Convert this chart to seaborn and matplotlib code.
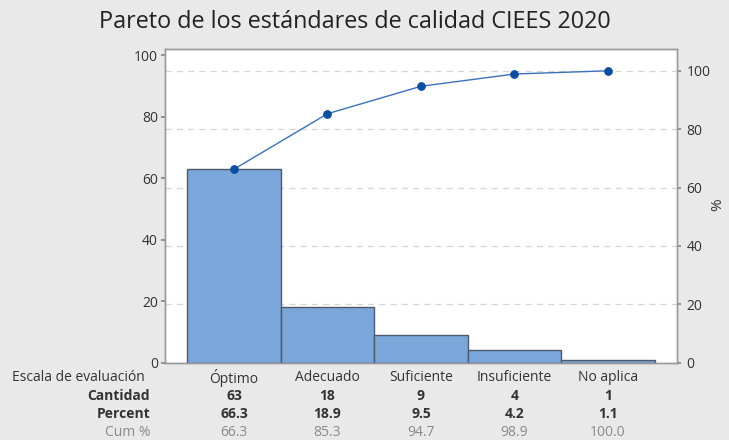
import numpy as np
import pandas as pd
import matplotlib
matplotlib.use("Agg")
import matplotlib.pyplot as plt
import seaborn as sns

# ---------------- Data ----------------
categories = ["Óptimo", "Adecuado", "Suficiente", "Insuficiente", "No aplica"]
cantidad = [63, 18, 9, 4, 1]
percent = [66.3, 18.9, 9.5, 4.2, 1.1]
cum_pct = [66.3, 85.3, 94.7, 98.9, 100.0]
row_labels = ["Escala de evaluación", "Cantidad", "Percent", "Cum %"]
title = "Pareto de los estándares de calidad CIEES 2020"

df = pd.DataFrame({"cat": categories, "n": cantidad, "cum": cum_pct})
total = sum(cantidad)

# ---------------- Style ----------------
sns.set_theme(style="white")
plt.rcParams["font.family"] = ["Open Sans", "DejaVu Sans"]
bg = "#e9e9e9"
txt = "#333333"

fig = plt.figure(figsize=(7.29, 4.40), dpi=100, facecolor=bg)
ax = fig.add_axes([0.2263, 0.1755, 0.7020, 0.7125])

sns.barplot(data=df, x="cat", y="n", ax=ax, width=1.0, color="#7ba6da",
            edgecolor="#4d5a6e", linewidth=1.0, saturation=1)

ax.set_xlim(-0.738, len(categories) - 1 + 0.735)
ymax = 102
ax.set_ylim(0, ymax)
ax.set_yticks([0, 20, 40, 60, 80, 100])
ax.set_xticks(range(len(categories)))
ax.set_xticklabels([])
ax.set_xlabel("")
ax.set_ylabel("")
ax.tick_params(axis="y", length=3, color="#888888", labelsize=10, labelcolor=txt, pad=2)
ax.tick_params(axis="x", length=3, color="#888888")

# cumulative % on right axis
ax2 = ax.twinx()
ax2.set_ylim(0, ymax / total * 100)
ax2.set_xlim(ax.get_xlim())
ax2.set_yticks([0, 20, 40, 60, 80, 100])
ax2.tick_params(axis="y", length=3, color="#888888", labelsize=10, labelcolor=txt, pad=4)
fig.text(0.985, 0.535, "%", rotation=90, ha="center", va="center", fontsize=11, color=txt)

# dashed gridlines at the % ticks
for v in [20, 40, 60, 80, 100]:
    ax2.axhline(v, color="#d6d6d6", linestyle=(0, (5, 4)), linewidth=0.9, zorder=0)
ax.set_zorder(ax2.get_zorder() + 1)
ax.patch.set_visible(False)
ax2.patch.set_visible(True)
ax2.patch.set_facecolor("white")

# cumulative line drawn in count units so it sits above the bars
sns.lineplot(x=np.arange(len(categories)), y=np.array(cum_pct) * total / 100, ax=ax,
             color="#3a72b8", linewidth=1.0, marker="o", markersize=5.5,
             markerfacecolor="#0d4ea1", markeredgecolor="#0d4ea1", zorder=5)
ax.set_xlim(-0.738, len(categories) - 1 + 0.735)
ax.set_ylabel("")

for a in (ax, ax2):
    for s in a.spines.values():
        s.set_color("#9a9a9a")
        s.set_linewidth(1.0)

# ---------------- Table below ----------------
rows_y = [0.141, 0.100, 0.059, 0.018]
label_x = 0.206
trans = matplotlib.transforms.blended_transform_factory(ax.transData, fig.transFigure)
fig.text(0.016, rows_y[0], row_labels[0], ha="left", va="center", fontsize=10, color=txt)
fig.text(label_x, rows_y[1], row_labels[1], ha="right", va="center", fontsize=10,
         color=txt, fontweight="bold")
fig.text(label_x, rows_y[2], row_labels[2], ha="right", va="center", fontsize=10,
         color=txt, fontweight="bold")
fig.text(label_x, rows_y[3], row_labels[3], ha="right", va="center", fontsize=10,
         color="#8a8a8a")
for i, c in enumerate(categories):
    fig.text(i, rows_y[0], c, transform=trans, ha="center", va="center",
             fontsize=10, color=txt)
    fig.text(i, rows_y[1], str(cantidad[i]), transform=trans, ha="center",
             va="center", fontsize=10, color=txt, fontweight="bold")
    fig.text(i, rows_y[2], f"{percent[i]:.1f}", transform=trans, ha="center",
             va="center", fontsize=10, color=txt, fontweight="bold")
    fig.text(i, rows_y[3], f"{cum_pct[i]:.1f}", transform=trans, ha="center",
             va="center", fontsize=10, color="#8a8a8a")

fig.text(0.487, 0.95, title, ha="center", va="center", fontsize=16.8, color="#222222")

fig.savefig("out.png", dpi=100, facecolor=bg)
